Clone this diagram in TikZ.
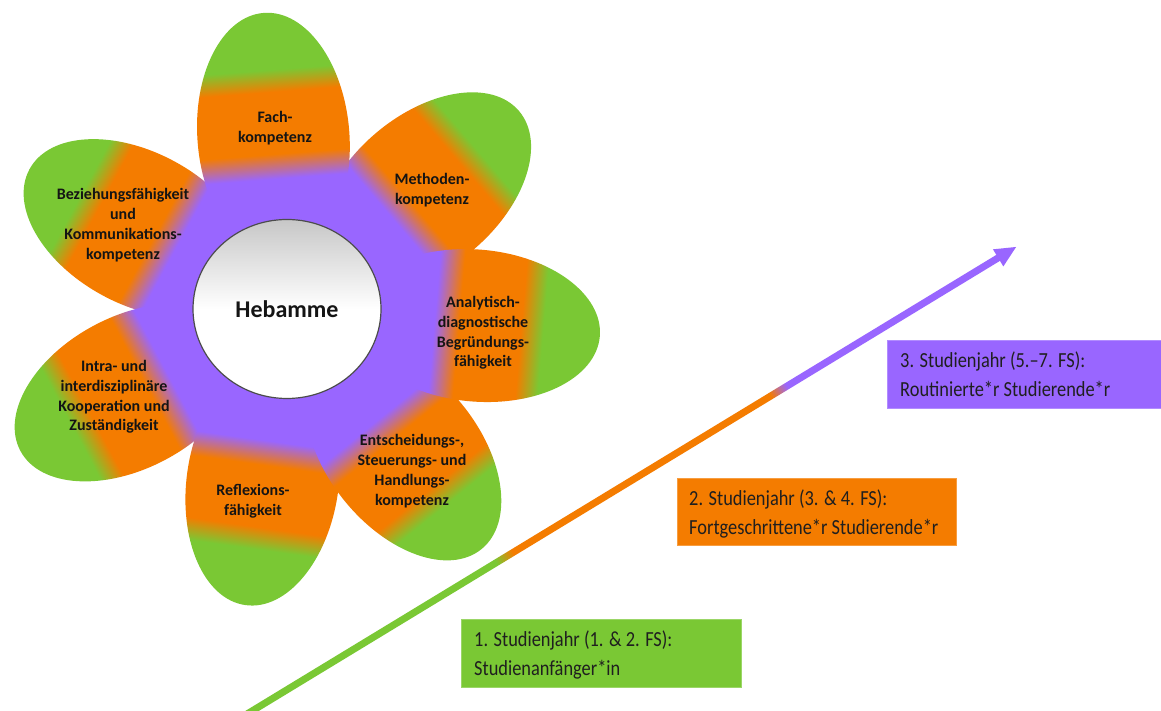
\documentclass[tikz,border=0pt]{standalone}
\usepackage{fontspec}
\setmainfont{Carlito}
\newfontfamily\boxfont[FakeStretch=0.855]{Carlito}
\usetikzlibrary{shapes.geometric,calc}
\definecolor{fpurple}{RGB}{153,102,255}
\definecolor{forange}{RGB}{244,124,0}
\definecolor{fgreen}{RGB}{122,200,52}
\definecolor{ftext}{RGB}{20,20,20}
\pgfdeclareverticalshading{petalshade}{100bp}{color(0bp)=(fpurple); color(41.5bp)=(fpurple); color(46.5bp)=(forange); color(59bp)=(forange); color(63.5bp)=(fgreen); color(100bp)=(fgreen)}
\pgfdeclarehorizontalshading{arrowshade}{100bp}{color(0bp)=(fgreen); color(41.7bp)=(fgreen); color(42.8bp)=(forange); color(59.8bp)=(forange); color(60.9bp)=(fpurple); color(100bp)=(fpurple)}
\newcommand\flowerpetal[2]{%
  \begin{scope}[transform canvas={shift={(287pt,402pt)},rotate=#1-90}]
    \shade[shading=petalshade] (0,#2-124) ellipse [x radius=76, y radius=124];
  \end{scope}}
\tikzset{
  petallabel/.style={font=\fontsize{16}{19.8}\selectfont\bfseries, text=ftext, align=center, inner sep=0pt},
  boxtext/.style={font=\boxfont\fontsize{21.5}{28.5}\selectfont, text=black!88, align=left, anchor=base west, inner sep=0pt},
  stagebox/.style={anchor=north west, inner sep=0pt, draw=#1!75!white, fill=#1, line width=0.8pt, minimum height=68pt}
}
\begin{document}
\begin{tikzpicture}[x=1pt,y=1pt]
\useasboundingbox (0,0) rectangle (1161,711);
\fill[white] (0,0) rectangle (1161,711);

% flower
\fill[fpurple] (287,402) circle (110);
\flowerpetal{40.5}{305}
\flowerpetal{151.5}{293}
\flowerpetal{94.5}{297}
\flowerpetal{-152}{302}
\flowerpetal{-98}{299}
\flowerpetal{-51}{309}
\flowerpetal{-5}{314}

\node[ellipse, draw=black!70, line width=1.2pt, minimum width=188pt, minimum height=179pt, inner sep=0pt,
      top color=black!22, bottom color=white, middle color=white,
      font=\fontsize{24}{28}\selectfont\bfseries, text=ftext] (hub) at (287,402) {Hebamme};

\node[petallabel] (fach) at (275,583) {Fach-\\kompetenz};
\node[petallabel] (methoden) at (432,521) {Methoden-\\kompetenz};
\node[petallabel] (analyt) at (483,378) {Analytisch-\\diagnostische\\Begründungs-\\fähigkeit};
\node[petallabel] (entsch) at (412,240) {Entscheidungs-,\\Steuerungs- und\\Handlungs-\\kompetenz};
\node[petallabel] (reflex) at (253,210) {Reflexions-\\fähigkeit};
\node[petallabel] (intra) at (114,314) {Intra- und\\interdisziplinäre\\Kooperation und\\Zuständigkeit};
\node[petallabel] (bezieh) at (123,486) {Beziehungsfähigkeit\\und\\Kommunikations-\\kompetenz};

% progression arrow
\begin{scope}[transform canvas={shift={(252pt,0pt)},rotate=31.27}]
  \shade[shading=arrowshade] (-10,-3.5) rectangle (876,3.5);
  \fill[fpurple] (873,-10) -- (894,0) -- (873,10) -- cycle;
\end{scope}

% stage boxes
\node[stagebox=fgreen, minimum width=280pt] (box1) at (461,92) {};
\node[boxtext] (t1) at ($(box1.north west)+(13,-56.5)$) {1. Studienjahr (1. \& 2. FS):\\Studienanfänger*in};
\node[stagebox=forange, minimum width=279pt, minimum height=67pt] (box2) at (677,233) {};
\node[boxtext] (t2) at ($(box2.north west)+(12,-56.5)$) {2. Studienjahr (3. \& 4. FS):\\Fortgeschrittene*r Studierende*r};
\node[stagebox=fpurple, minimum width=290pt] (box3) at (887,371) {};
\node[boxtext] (t3) at ($(box3.north west)+(13,-56.5)$) {3. Studienjahr (5.–7. FS):\\Routinierte*r Studierende*r};
\end{tikzpicture}
\end{document}
